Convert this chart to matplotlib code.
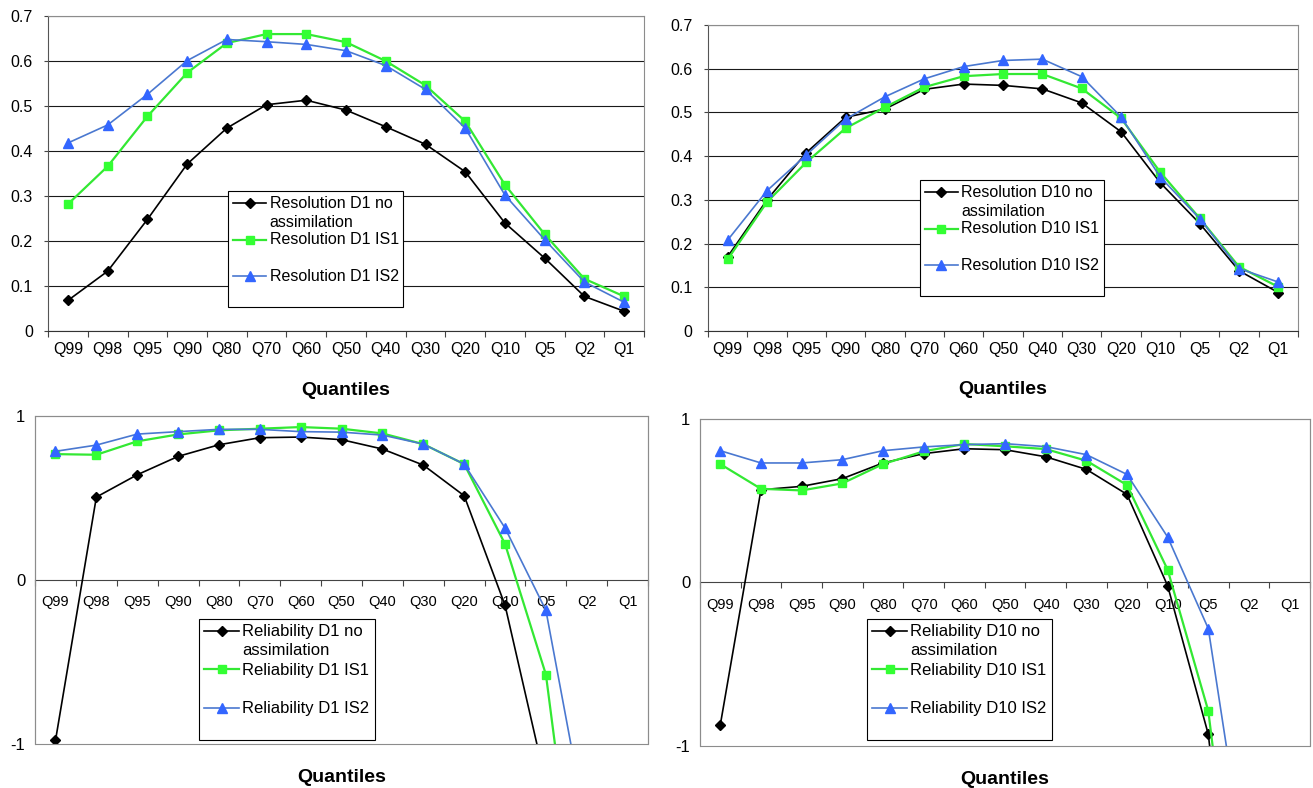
import numpy as np
import matplotlib
matplotlib.use("Agg")
import matplotlib.pyplot as plt
from matplotlib.patches import Rectangle

plt.rcParams["font.family"] = ["Liberation Sans", "DejaVu Sans"]

QUANTILES = ["Q99", "Q98", "Q95", "Q90", "Q80", "Q70", "Q60", "Q50",
             "Q40", "Q30", "Q20", "Q10", "Q5", "Q2", "Q1"]

# resolution, lead D1
res_d1_noassim = [0.068, 0.133, 0.248, 0.371, 0.451, 0.503, 0.513, 0.491,
                  0.454, 0.415, 0.354, 0.240, 0.162, 0.077, 0.044]
res_d1_is1 = [0.282, 0.366, 0.477, 0.574, 0.640, 0.660, 0.660, 0.642,
              0.600, 0.546, 0.466, 0.325, 0.215, 0.116, 0.077]
res_d1_is2 = [0.418, 0.458, 0.526, 0.601, 0.648, 0.643, 0.637, 0.623,
              0.590, 0.537, 0.451, 0.302, 0.203, 0.109, 0.064]

# resolution, lead D10
res_d10_noassim = [0.170, 0.300, 0.408, 0.489, 0.508, 0.553, 0.565, 0.562,
                   0.554, 0.522, 0.456, 0.339, 0.246, 0.138, 0.088]
res_d10_is1 = [0.164, 0.295, 0.386, 0.464, 0.512, 0.558, 0.583, 0.588,
               0.588, 0.555, 0.487, 0.363, 0.258, 0.147, 0.101]
res_d10_is2 = [0.208, 0.321, 0.403, 0.485, 0.536, 0.577, 0.605, 0.619,
               0.622, 0.582, 0.490, 0.352, 0.257, 0.143, 0.112]

# reliability, lead D1 (values below -1 run off the chart)
rel_d1_noassim = [-0.978, 0.506, 0.642, 0.754, 0.825, 0.868, 0.872, 0.856,
                  0.799, 0.701, 0.514, -0.154, -1.24, np.nan, np.nan]
rel_d1_is1 = [0.768, 0.764, 0.846, 0.888, 0.913, 0.923, 0.933, 0.923,
              0.894, 0.829, 0.707, 0.220, -0.577, -2.5, np.nan]
rel_d1_is2 = [0.785, 0.823, 0.890, 0.905, 0.919, 0.919, 0.905, 0.902,
              0.884, 0.829, 0.707, 0.317, -0.185, -1.52, np.nan]

# reliability, lead D10
rel_d10_noassim = [-0.871, 0.567, 0.588, 0.635, 0.731, 0.788, 0.818, 0.812,
                   0.769, 0.692, 0.539, -0.020, -0.929, -3.1, np.nan]
rel_d10_is1 = [0.724, 0.573, 0.563, 0.606, 0.724, 0.802, 0.847, 0.833,
               0.816, 0.745, 0.596, 0.078, -0.786, -2.8, np.nan]
rel_d10_is2 = [0.806, 0.731, 0.731, 0.751, 0.806, 0.829, 0.843, 0.849,
               0.831, 0.782, 0.661, 0.278, -0.282, -1.9, np.nan]

STYLES = [
    dict(color="#000000", lw=1.2, marker="D", ms=5, mfc="#000000", mec="#000000"),
    dict(color="#33e833", lw=1.6, marker="s", ms=6, mfc="#33ff33", mec="#33ff33"),
    dict(color="#4a78d0", lw=1.2, marker="^", ms=7, mfc="#3366ff", mec="#3366ff"),
]
FRAME = "#8c8c8c"


def legend_labels(kind, lead):
    # trailing blank line mimics the Excel legend spacing
    return [f"{kind} {lead} no\nassimilation", f"{kind} {lead} IS1\n ",
            f"{kind} {lead} IS2\n "]


def base_panel(fig, rect, series, labels, xtick_size):
    ax = fig.add_axes(rect)
    x = np.arange(len(QUANTILES))
    for y, lab, st in zip(series, labels, STYLES):
        ax.plot(x, y, label=lab, zorder=3, **st)
    ax.set_xlim(-0.5, len(QUANTILES) - 0.5)
    ax.set_xticks(x)
    ax.set_xticklabels(QUANTILES)
    ax.set_xticks(np.arange(len(QUANTILES) + 1) - 0.5, minor=True)
    ax.tick_params(axis="x", which="major", length=0, labelsize=xtick_size)
    ax.tick_params(axis="x", which="minor", length=4, width=0.8, color="#444444")
    return ax


def add_legend(ax, anchor, size, spacing):
    leg = ax.legend(loc="upper left", bbox_to_anchor=anchor, borderaxespad=0,
                    fontsize=size, frameon=True, fancybox=False, framealpha=1,
                    edgecolor="#000000", labelspacing=spacing, handlelength=2.1,
                    handletextpad=0.2, borderpad=0.3)
    leg.get_frame().set_linewidth(0.8)
    for t in leg.get_texts():
        t.set_linespacing(1.3)
    # Excel puts the symbol level with the first text line, not the middle
    dy = 0.62 * size
    for col in leg._legend_handle_box.get_children():
        for entry in col.get_children():
            handle_area = entry.get_children()[0]
            for art in handle_area.get_children():
                art.set_ydata(np.asarray(art.get_ydata()) + dy)
    return leg


def resolution_panel(fig, rect, series, lead, anchor):
    ax = base_panel(fig, rect, series, legend_labels("Resolution", lead), 11.5)
    ax.set_ylim(0, 0.7)
    ticks = np.arange(0, 0.71, 0.1)
    ax.set_yticks(ticks)
    ax.set_yticklabels(["0"] + [f"{t:.1f}" for t in ticks[1:]])
    ax.yaxis.grid(True, color="#1a1a1a", lw=0.8)
    ax.set_axisbelow(True)
    ax.tick_params(axis="x", which="major", pad=8)
    ax.tick_params(axis="y", length=3, width=0.8, pad=8, labelsize=11.5, color="#444444")
    for side in ("top", "right"):
        ax.spines[side].set_color(FRAME)
    ax.spines["left"].set_color("#555555")
    ax.spines["bottom"].set_color("#333333")
    ax.set_xlabel("Quantiles", fontsize=14, fontweight="bold")
    ax.xaxis.set_label_coords(0.5, -0.163)
    add_legend(ax, anchor, 11.5, 0.18)
    return ax


def reliability_panel(fig, rect, series, lead, anchor):
    ax = base_panel(fig, rect, series, legend_labels("Reliability", lead), 10.5)
    ax.set_ylim(-1, 1)
    ax.set_yticks([-1, 0, 1])
    ax.set_yticklabels(["-1", "0", "1"])
    ax.spines["bottom"].set_position(("data", 0))
    ax.spines["bottom"].set_color("#444444")
    for side in ("top", "right", "left"):
        ax.spines[side].set_color(FRAME)
    ax.add_patch(Rectangle((0, 0), 1, 1, transform=ax.transAxes, fill=False,
                           edgecolor=FRAME, lw=0.8, clip_on=False, zorder=4))
    ax.tick_params(axis="x", which="major", pad=11)
    ax.tick_params(axis="y", length=0, pad=7, labelsize=12)
    ax.set_xlabel("Quantiles", fontsize=14, fontweight="bold")
    ax.xaxis.set_label_coords(0.5, -0.075)
    add_legend(ax, anchor, 12, 0.3)
    return ax


fig = plt.figure(figsize=(13.13, 7.88), dpi=100)

resolution_panel(fig, [0.0366, 0.5799, 0.4539, 0.3997],
                 [res_d1_noassim, res_d1_is1, res_d1_is2], "D1", (0.302, 0.444))
resolution_panel(fig, [0.5392, 0.5799, 0.4494, 0.3883],
                 [res_d10_noassim, res_d10_is1, res_d10_is2], "D10", (0.359, 0.493))
reliability_panel(fig, [0.0267, 0.0558, 0.4669, 0.4162],
                  [rel_d1_noassim, rel_d1_is1, rel_d1_is2], "D1", (0.2675, 0.381))
reliability_panel(fig, [0.5331, 0.0533, 0.4646, 0.4150],
                  [rel_d10_noassim, rel_d10_is1, rel_d10_is2], "D10", (0.274, 0.388))

fig.savefig("out.png", dpi=100)
plt.close(fig)
